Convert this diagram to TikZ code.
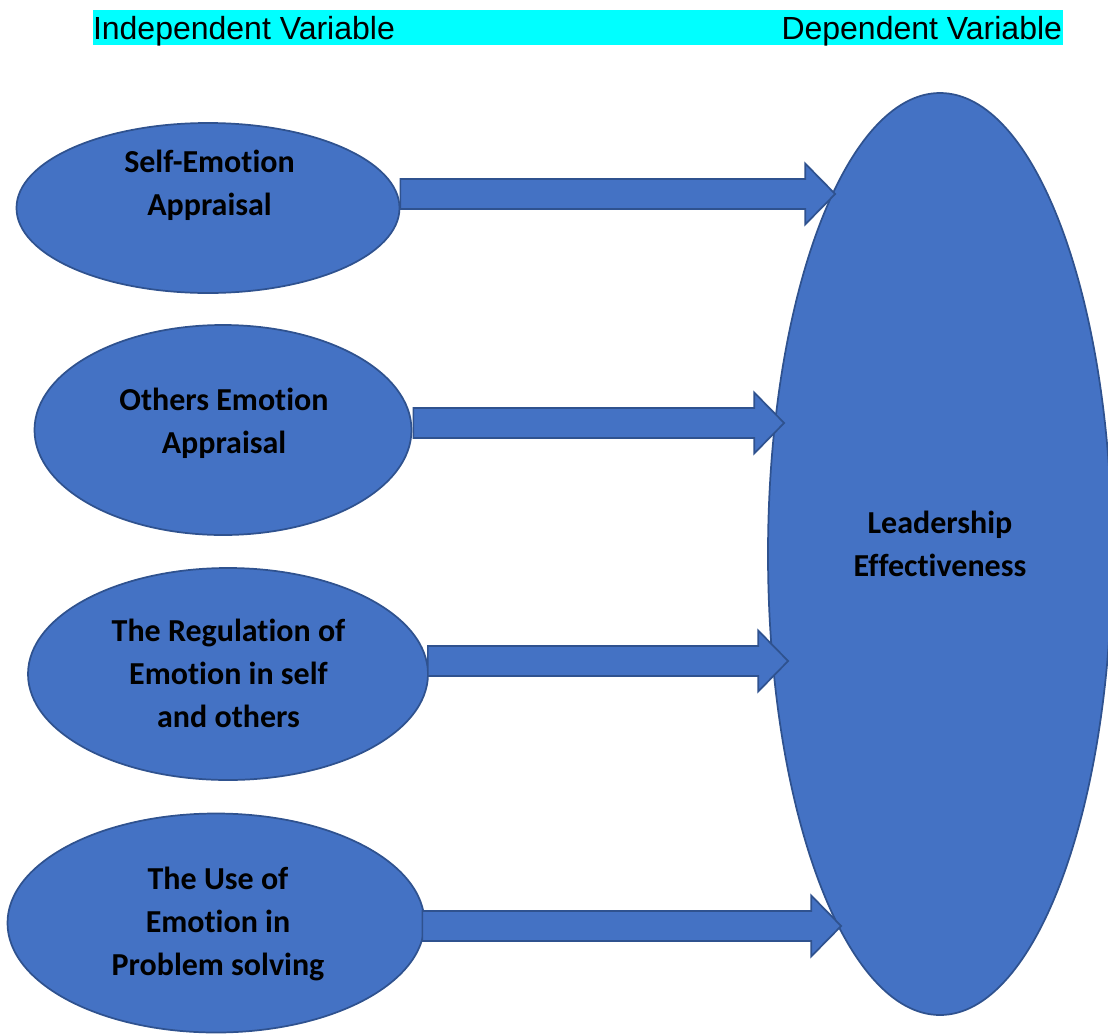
\documentclass[tikz,border=0pt]{standalone}
\usepackage{fontspec}
\setmainfont{Carlito}[RawFeature=-liga]
\newfontfamily\headfont{Liberation Sans}
\usepackage{xcolor}
\usepackage{tikz}
\usetikzlibrary{shapes.geometric,calc}
\definecolor{varfill}{HTML}{4472C4}
\definecolor{varedge}{HTML}{2F528F}
\definecolor{bandcyan}{HTML}{00FFFF}
\tikzset{
    varnode/.style={ellipse, draw=varedge, line width=1.3pt, fill=varfill, inner sep=0pt},
    vartext/.style={align=center, font=\fontsize{24}{32.25}\selectfont\bfseries, inner sep=0pt},
    heading/.style={font=\headfont\fontsize{24}{28}\selectfont, inner sep=0pt},
    band/.style={rectangle, fill=bandcyan, inner sep=0pt},
    blockarrow/.style={draw=varedge, line width=1.3pt, fill=varfill, line join=miter,
        to path={let \p1=(\tikztostart), \p2=(\tikztotarget) in
            (\x1,\y1+11.25pt) -- (\x2-22.5pt,\y1+11.25pt) -- (\x2-22.5pt,\y1+22.9pt) -- (\x2,\y1)
            -- (\x2-22.5pt,\y1-22.9pt) -- (\x2-22.5pt,\y1-11.25pt) -- (\x1,\y1-11.25pt) -- cycle}},
}

\begin{document}
\begin{tikzpicture}[x=0.75pt, y=-0.75pt]
    \useasboundingbox (0,0) rectangle (1108,1036);

    \node[band, minimum width=727.5pt, minimum height=26.25pt] (band) at (578,27.5) {};
    \node[heading, anchor=base west] (indep) at ($(band.south west)+(0,-6)$) {Independent Variable};
    \node[heading, anchor=base east] (dep) at ($(band.south east)+(-1,-6)$) {Dependent Variable};

    \node[varnode, minimum width=287.25pt, minimum height=127.5pt] (sea) at (208,208) {};
    \node[varnode, minimum width=282.75pt, minimum height=157.5pt] (oea) at (223,430) {};
    \node[varnode, minimum width=300pt, minimum height=159pt] (roe) at (228,674) {};
    \node[varnode, minimum width=312.75pt, minimum height=164.25pt] (uoe) at (216,923) {};
    \node[varnode, minimum width=258pt, minimum height=691.5pt] (lead) at (940,554) {};

    \node[vartext] (seatext) at (209.5,185.5) {Self-Emotion\\Appraisal};
    \node[vartext] (oeatext) at (224,423) {Others Emotion\\Appraisal};
    \node[vartext] (roetext) at (228.5,673) {The Regulation of\\Emotion in self\\and others};
    \node[vartext] (uoetext) at (218,924) {The Use of\\Emotion in\\Problem solving};
    \node[vartext] (leadtext) at (940,543.5) {Leadership\\Effectiveness};

    \draw[blockarrow] ([shift={(0,-14)}]sea.east) to ([shift={(68,-360)}]lead.west);
    \draw[blockarrow] ([shift={(1,-7)}]oea.east) to ([shift={(17,-131)}]lead.west);
    \draw[blockarrow] ([shift={(-1,-13)}]roe.east) to ([shift={(21,107)}]lead.west);
    \draw[blockarrow] ([shift={(-3,3)}]uoe.east) to ([shift={(74,372)}]lead.west);
\end{tikzpicture}
\end{document}
